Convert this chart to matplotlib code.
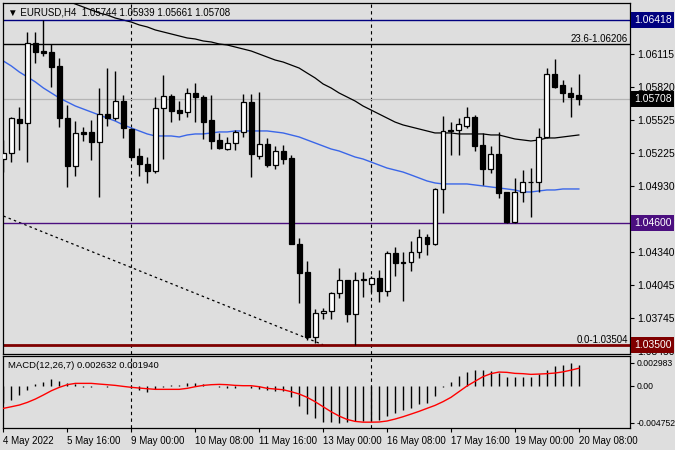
import numpy as np
import matplotlib
matplotlib.use("Agg")
import matplotlib.pyplot as plt
import matplotlib.transforms as mtrans

# ---- data (EURUSD H4) ----
opens = [1.05172, 1.05226, 1.05531, 1.05495, 1.06214, 1.06142, 1.06133, 1.06007, 1.05540, 1.05109,
         1.05415, 1.05415, 1.05325, 1.05576, 1.05540, 1.05693, 1.05442, 1.05199, 1.05127, 1.05064,
         1.05630, 1.05738, 1.05612, 1.05594, 1.05765, 1.05729, 1.05522, 1.05343, 1.05262, 1.05316,
         1.05415, 1.05684, 1.05199, 1.05307, 1.05118, 1.05244, 1.05181, 1.04409, 1.04157, 1.03574,
         1.03789, 1.03807, 1.03969, 1.04086, 1.03780, 1.04086, 1.04050, 1.04104, 1.03987, 1.04328,
         1.04247, 1.04247, 1.04337, 1.04472, 1.04409, 1.04903, 1.05433, 1.05433, 1.05469, 1.05549,
         1.05298, 1.05082, 1.05217, 1.04876, 1.04610, 1.04876, 1.04966, 1.04966, 1.05370, 1.05935,
         1.05837, 1.05765, 1.05744]
highs = [1.05343, 1.05549, 1.05639, 1.06313, 1.06313, 1.06418, 1.06205, 1.06079, 1.05657, 1.05513,
         1.05460, 1.05522, 1.05810, 1.05989, 1.05962, 1.05747, 1.05451, 1.05271, 1.05190, 1.05729,
         1.05927, 1.05756, 1.05693, 1.05810, 1.05855, 1.05747, 1.05747, 1.05406, 1.05370, 1.05433,
         1.05756, 1.05756, 1.05774, 1.05361, 1.05289, 1.05298, 1.05208, 1.04463, 1.04256, 1.03825,
         1.03834, 1.03978, 1.04193, 1.04090, 1.04157, 1.04157, 1.04122, 1.04175, 1.04346, 1.04382,
         1.04337, 1.04436, 1.04544, 1.04499, 1.04910, 1.05558, 1.05504, 1.05540, 1.05639, 1.05567,
         1.05406, 1.05289, 1.05415, 1.04876, 1.05002, 1.05073, 1.05091, 1.05451, 1.05989, 1.06070,
         1.05882, 1.05819, 1.05939]
lows = [1.05055, 1.05145, 1.05253, 1.05145, 1.06034, 1.06097, 1.05819, 1.05460, 1.04921, 1.05020,
        1.05334, 1.05163, 1.04831, 1.05469, 1.05522, 1.05361, 1.05181, 1.05020, 1.04957, 1.05046,
        1.05172, 1.05504, 1.05522, 1.05549, 1.05504, 1.05352, 1.05262, 1.05262, 1.05253, 1.05253,
        1.05370, 1.05011, 1.05172, 1.05100, 1.05082, 1.05127, 1.04409, 1.03879, 1.03547, 1.03520,
        1.03735, 1.03735, 1.03924, 1.03708, 1.03504, 1.03933, 1.03978, 1.03888, 1.03942, 1.04122,
        1.03897, 1.04166, 1.04283, 1.04310, 1.04400, 1.04687, 1.05208, 1.05208, 1.05451, 1.05244,
        1.04939, 1.05046, 1.04822, 1.04600, 1.04600, 1.04786, 1.04651, 1.04876, 1.05361, 1.05810,
        1.05684, 1.05549, 1.05661]
closes = [1.05226, 1.05540, 1.05495, 1.06214, 1.06133, 1.06124, 1.05998, 1.05540, 1.05109, 1.05406,
          1.05397, 1.05325, 1.05576, 1.05540, 1.05693, 1.05451, 1.05190, 1.05127, 1.05064, 1.05630,
          1.05738, 1.05603, 1.05585, 1.05765, 1.05729, 1.05504, 1.05334, 1.05271, 1.05316, 1.05415,
          1.05684, 1.05217, 1.05307, 1.05118, 1.05244, 1.05172, 1.04409, 1.04148, 1.03574, 1.03789,
          1.03807, 1.03969, 1.04086, 1.03780, 1.04086, 1.04095, 1.04104, 1.03987, 1.04328, 1.04238,
          1.04238, 1.04337, 1.04472, 1.04409, 1.04903, 1.05424, 1.05424, 1.05487, 1.05549, 1.05289,
          1.05082, 1.05217, 1.04867, 1.04605, 1.04876, 1.04966, 1.04968, 1.05370, 1.05935, 1.05819,
          1.05765, 1.05729, 1.05708]

ma_black = [1.06789, 1.06762, 1.06735, 1.06717, 1.06690, 1.06663, 1.06636, 1.06618, 1.06591, 1.06564,
            1.06537, 1.06510, 1.06483, 1.06465, 1.06438, 1.06420, 1.06402, 1.06376, 1.06358, 1.06331,
            1.06313, 1.06295, 1.06277, 1.06259, 1.06250, 1.06232, 1.06223, 1.06205, 1.06196, 1.06178,
            1.06160, 1.06142, 1.06115, 1.06088, 1.06061, 1.06043, 1.06016, 1.05989, 1.05944, 1.05900,
            1.05846, 1.05810, 1.05765, 1.05729, 1.05693, 1.05648, 1.05612, 1.05576, 1.05540, 1.05504,
            1.05478, 1.05460, 1.05442, 1.05424, 1.05406, 1.05406, 1.05406, 1.05397, 1.05397, 1.05397,
            1.05397, 1.05388, 1.05388, 1.05370, 1.05352, 1.05343, 1.05334, 1.05343, 1.05361, 1.05361,
            1.05370, 1.05379, 1.05388]
ma_blue = [1.06052, 1.06007, 1.05953, 1.05909, 1.05864, 1.05810, 1.05765, 1.05720, 1.05684, 1.05648,
           1.05621, 1.05594, 1.05567, 1.05540, 1.05513, 1.05478, 1.05451, 1.05424, 1.05397, 1.05379,
           1.05379, 1.05379, 1.05370, 1.05388, 1.05397, 1.05397, 1.05406, 1.05415, 1.05415, 1.05424,
           1.05424, 1.05424, 1.05424, 1.05424, 1.05415, 1.05406, 1.05388, 1.05370, 1.05343, 1.05316,
           1.05289, 1.05262, 1.05244, 1.05217, 1.05190, 1.05172, 1.05145, 1.05118, 1.05091, 1.05073,
           1.05055, 1.05029, 1.05002, 1.04975, 1.04957, 1.04948, 1.04948, 1.04948, 1.04948, 1.04939,
           1.04930, 1.04921, 1.04912, 1.04903, 1.04894, 1.04876, 1.04876, 1.04885, 1.04894, 1.04894,
           1.04903, 1.04903, 1.04903]

macd_hist = [-0.00228, -0.00185, -0.00120, -0.00056, 0.00021, 0.00052, 0.00086, 0.00060, 0.00030, 0.00017,
             -0.00013, -0.00021, 0.00002, -0.00013, -0.00004, 0.00002, -0.00026, -0.00056, -0.00086, -0.00043,
             -0.00013, 0.00004, 0.00009, 0.00030, 0.00034, 0.00017, 0.00002, -0.00013, -0.00026, -0.00026,
             0.00002, -0.00034, -0.00047, -0.00056, -0.00064, -0.00069, -0.00150, -0.00262, -0.00365, -0.00421,
             -0.00464, -0.00473, -0.004752, -0.00464, -0.00460, -0.00460, -0.00455, -0.00443, -0.00391, -0.00357,
             -0.00314, -0.00292, -0.00236, -0.00228, -0.00129, -0.00013, 0.00052, 0.00129, 0.00181, 0.00202,
             0.00202, 0.00194, 0.00159, 0.00116, 0.00108, 0.00108, 0.00116, 0.00146, 0.00202, 0.00258,
             0.00267, 0.002983, 0.002632]
macd_signal = [-0.00292, -0.00271, -0.00249, -0.00215, -0.00172, -0.00120, -0.00065, -0.00021, 0.00013, 0.00030,
               0.00030, 0.00030, 0.00021, 0.00013, 0.00004, -0.00009, -0.00021, -0.00030, -0.00039, -0.00047,
               -0.00047, -0.00047, -0.00047, -0.00034, -0.00013, 0.00004, 0.00013, 0.00017, 0.00013, 0.00004,
               0.0, 0.0, -0.00013, -0.00034, -0.00043, -0.00052, -0.00077, -0.00107, -0.00150, -0.00206,
               -0.00271, -0.00335, -0.00391, -0.00435, -0.00460, -0.00470, -0.00470, -0.00468, -0.00455, -0.00430,
               -0.00400, -0.00366, -0.00331, -0.00292, -0.00254, -0.00206, -0.00150, -0.00077, -0.00004, 0.00056,
               0.00116, 0.00155, 0.00176, 0.00172, 0.00159, 0.00155, 0.00146, 0.00150, 0.00155, 0.00163,
               0.00178, 0.00200, 0.00225]

price_ticks = [1.06115, 1.05820, 1.05525, 1.05225, 1.04930, 1.04635, 1.04340, 1.04045, 1.03745, 1.03450]
macd_ticks = [0.002983, 0.0, -0.004752]
macd_tick_labels = ["0.002983", "0.00", "-0.004752"]
time_idx = [0, 8, 16, 24, 32, 40, 48, 56, 64, 72]
time_labels = ["4 May 2022", "5 May 16:00", "9 May 00:00", "10 May 08:00", "11 May 16:00",
               "13 May 00:00", "16 May 08:00", "17 May 16:00", "19 May 00:00", "20 May 08:00"]
week_seps = [16, 46]

# horizontal levels: (price, colour, width)
levels = [(1.06418, "#00007f", 1.0), (1.06206, "#000000", 1.0),
          (1.04600, "#4b0f7f", 1.0), (1.03500, "#7f0000", 2.0)]
boxed = [(1.06418, "#00007f"), (1.05708, "#000000"), (1.04600, "#4b0f7f"), (1.03500, "#7f0000")]
current_price = 1.05708
fib_points = [(0, 1.04660), (40, 1.03504)]
fib_texts = [(1.06206, "23.6-1.06206"), (1.03504, "0.0-1.03504")]

BG = "#dedede"
W, H = 675, 450
plt.rcParams["font.family"] = ["Liberation Sans", "DejaVu Sans"]
FS = 7
FS_PRICE = 7.5
fig = plt.figure(figsize=(W / 100, H / 100), dpi=100, facecolor=BG)

def px_axes(x0, y0, x1, y1):
    return fig.add_axes([x0 / W, 1 - y1 / H, (x1 - x0) / W, (y1 - y0) / H])

ax = px_axes(3, 3, 630, 354)
axm = px_axes(3, 356, 630, 428)
n = len(opens)
x = np.arange(n)

for a in (ax, axm):
    a.set_facecolor(BG)
    a.set_xlim(-0.05, 78.4)
    for s in a.spines.values():
        s.set_color("black")
        s.set_linewidth(0.9)
    a.yaxis.tick_right()
    a.tick_params(axis="y", length=3, width=0.8, pad=2, colors="black")
    for k in week_seps:
        a.axvline(k, color="black", lw=0.8, ls=(0, (3, 3)), zorder=1)

# ---- main price panel ----
ax.set_ylim(1.03421, 1.06573)
ax.set_xticks([])
ax.set_yticks(price_ticks)
ax.set_yticklabels(["%.5f" % v for v in price_ticks], fontsize=FS_PRICE)

o = np.array(opens); c = np.array(closes)
up = c >= o
ax.vlines(x, lows, highs, color="black", lw=1.0, zorder=3)
body_lo = np.minimum(o, c)
body_h = np.maximum(np.abs(c - o), 0.00003)
ax.bar(x, body_h, bottom=body_lo, width=0.62,
       color=np.where(up, "white", "black"), edgecolor="black", linewidth=0.9, zorder=4)

ax.plot(x, ma_black, color="black", lw=0.9, zorder=2)
ax.plot(x, ma_blue, color="#3a66e8", lw=1.0, zorder=2)

ax.axhline(current_price, color="#b4b4b4", lw=0.9, zorder=1)
(fx0, fy0), (fx1, fy1) = fib_points
ax.plot([fx0, fx1], [fy0, fy1], color="black", lw=0.9, ls=(0, (2, 2.5)), zorder=2)

ytrans = mtrans.blended_transform_factory(ax.transAxes, ax.transData)
for price, col, lw in levels:
    ax.axhline(price, color=col, lw=lw, zorder=2)
for price, col in boxed:
    ax.text(1.006, price, "%.5f" % price, transform=ytrans, ha="left", va="center",
            fontsize=FS_PRICE, color="white", clip_on=False, zorder=10,
            bbox=dict(boxstyle="square,pad=0.28", fc=col, ec="none"))
for price, txt in fib_texts:
    ax.text(0.997, price, txt, transform=ytrans, ha="right", va="bottom",
            fontsize=FS, color="black", zorder=6)

ax.text(0.008, 0.988, "\u25BC EURUSD,H4  1.05744 1.05939 1.05661 1.05708",
        transform=ax.transAxes, ha="left", va="top", fontsize=FS, color="black", zorder=6)

# ---- MACD panel ----
axm.set_ylim(-0.005452, 0.003828)
axm.vlines(x, 0, macd_hist, color="black", lw=1.0, zorder=3)
axm.plot(x, macd_signal, color="#ff0000", lw=1.0, zorder=4)
axm.set_yticks(macd_ticks)
axm.set_yticklabels(macd_tick_labels, fontsize=6.2)
axm.tick_params(axis="y", pad=1.5)
axm.text(0.008, 0.93, "MACD(12,26,7) 0.002632 0.001940", transform=axm.transAxes,
         ha="left", va="top", fontsize=6.8, color="black")

axm.set_xticks(time_idx)
axm.set_xticklabels(time_labels, ha="left", fontsize=FS)
axm.tick_params(axis="x", length=3, width=0.8, pad=3)

fig.savefig("out.png", dpi=100, facecolor=BG)
